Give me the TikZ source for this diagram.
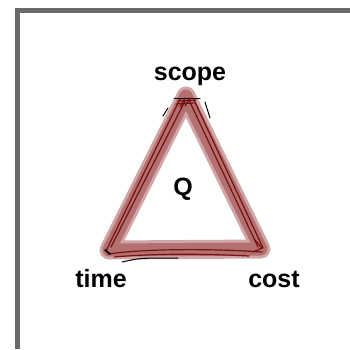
\documentclass[tikz,border=0pt]{standalone}
\usepackage{fontspec}
\setmainfont{Liberation Sans}
\usetikzlibrary{calc}
\definecolor{bandred}{RGB}{178,112,112}
\definecolor{hazered}{RGB}{208,166,166}
\definecolor{inkred}{RGB}{120,16,16}
\definecolor{framegray}{RGB}{105,105,105}
\begin{document}
\begin{tikzpicture}[x=1pt, y=-1pt,
  hazeband/.style={hazered, line width=19pt, line join=round, line cap=round},
  band/.style={bandred, line width=13pt, line join=round, line cap=round},
  ink/.style={inkred, line width=1.2pt, line cap=round},
  pencil/.style={black, line width=1pt, line cap=round},
  lbl/.style={font=\bfseries\fontsize{25}{30}\selectfont, anchor=base}]
  \useasboundingbox (0,0) rectangle (350,349);
  \draw[framegray, line width=5pt] (17.5,349) -- (17.5,10.5) -- (350,10.5);

  \coordinate (S) at (186,96);
  \coordinate (T) at (109,250);
  \coordinate (C) at (261,249);
  \draw[hazeband] (S) -- (T) -- (C) -- cycle;
  \draw[band] (S) -- (T) -- (C) -- cycle;

  % sides
  \draw[ink] ($(S)+(-6,3)$) -- ($(T)+(-3,1)$);
  \draw[ink] ($(S)+(-1,5)$) -- ($(T)+(2,-3)$);
  \draw[ink] ($(S)+(3,4)$) -- ($(C)+(-3,-2)$);
  \draw[ink] ($(S)+(8,4)$) -- ($(C)+(2,-1)$);
  \draw[ink] ($(T)+(-1,4)$) .. controls (150,248) and (220,249) .. ($(C)+(1,3)$);
  \draw[ink] ($(T)+(5,7)$) .. controls (160,253) and (210,254) .. ($(C)+(-12,7)$);
  \draw[pencil] (122,262) .. controls (140,258) .. (178,258);

  % scribbles at the corners
  \draw[pencil] (174,98) -- (200,98);
  \draw[ink] (178,101) -- (196,100);
  \draw[ink] (176,104) -- (194,103);
  \draw[ink] (185,98) -- (180,107);
  \draw[ink] (190,98) -- (185,106);
  \draw[pencil] (168,108) -- (163,116);
  \draw[pencil] (205,102) -- (210,118);
  \draw[pencil, line width=1.6pt] (105,250) -- (110,254);
  \draw[ink] ($(C)+(-6,-9)$) -- ($(C)+(1,-1)$) -- ($(C)+(-8,3)$);

  \node[lbl] (scope) at (190,80) {scope};
  \node[lbl] (q) at (183,195) {Q};
  \node[lbl] (time) at (101,287) {time};
  \node[lbl] (cost) at (274,287) {cost};
\end{tikzpicture}
\end{document}
